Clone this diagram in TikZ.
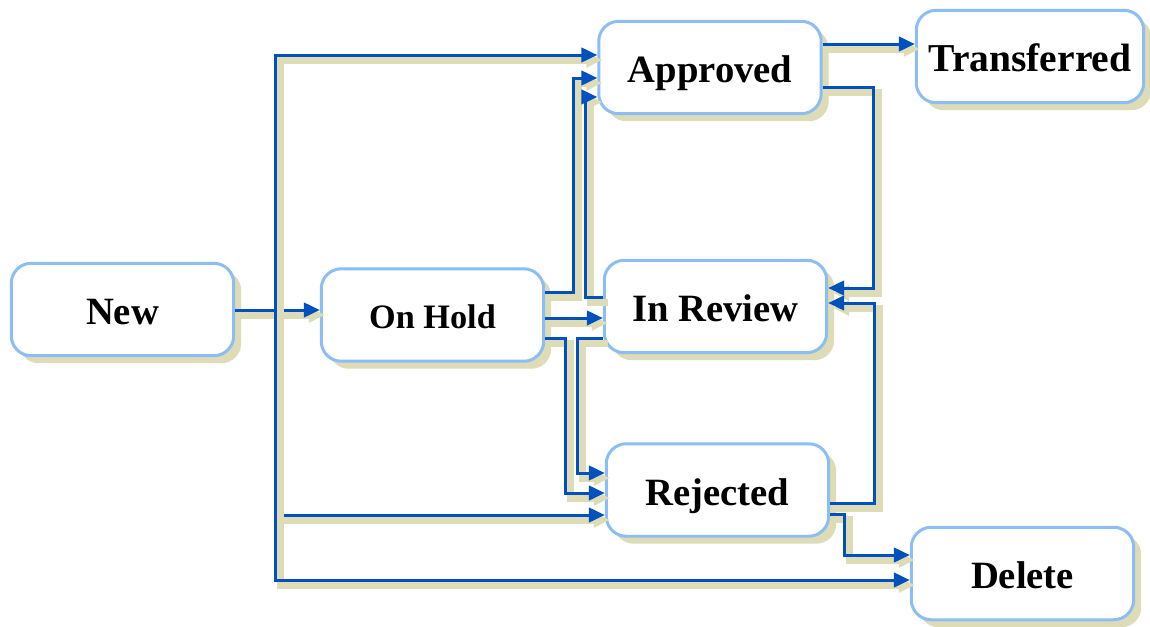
\documentclass[tikz,border=0pt]{standalone}
\usepackage{fontspec}
\setmainfont{Liberation Serif}
\usepackage{xcolor}
\usepackage{tikz}
\usetikzlibrary{positioning}
\usetikzlibrary{arrows.meta,shadows}
\definecolor{flowblue}{RGB}{0,80,190}
\definecolor{boxblue}{RGB}{140,190,245}
\definecolor{shade}{RGB}{221,220,182}
\tikzset{flow/.style = {->,> = {Triangle[length=0.32cm,width=0.29cm]}, draw=flowblue, line width=0.06cm,
    preaction={draw=shade, line width=0.14cm, transform canvas={shift={(0.1cm,-0.1cm)}}}}}

\begin{document}
\begin{tikzpicture}[x=0.02cm, y=-0.02cm,
    state node/.style={rectangle, rounded corners=0.4cm, draw=boxblue, line width=0.06cm, fill=white,
        minimum width=4.45cm, minimum height=1.85cm, text height=0.7cm, text depth=0.1cm,
        font=\bfseries\fontsize{22}{26}\selectfont,
        drop shadow={shadow xshift=0.15cm, shadow yshift=-0.15cm, fill=shade, opacity=1}}]
            \useasboundingbox (0,0) rectangle (1150,626);

            \node[state node] (new) at (122.5,309.5) {New};
            \node[state node, text height=0.62cm, font=\bfseries\fontsize{19.5}{23}\selectfont] (onhold) at (432.5,315) {On Hold};
            \node[state node] (approved) at (710,67.5) {Approved};
            \node[state node, minimum width=4.55cm, font=\bfseries\fontsize{22.5}{27}\selectfont] (transferred) at (1030,56.5) {Transferred};
            \node[state node] (inreview) at (715.5,306.5) {In Review};
            \node[state node] (rejected) at (717.5,490) {Rejected};
            \node[state node] (delete) at (1022.5,573.5) {Delete};

            \coordinate (bus) at (275,310);

            \draw[flow] (new.east |- 0,310) -- (onhold.west |- 0,310);
            \draw[flow] (new.east |- 0,310) -- (bus) |- (approved.west |- 0,55);
            \draw[flow] (new.east |- 0,310) -- (bus) |- (rejected.west |- 0,515);
            \draw[flow] (new.east |- 0,310) -- (bus) |- (delete.west |- 0,580);

            \draw[flow] (approved.east |- 0,44) -- (transferred.west |- 0,44);
            \draw[flow] (approved.east |- 0,87) -| (873,288) -- (inreview.east |- 0,288);

            \draw[flow] (onhold.east |- 0,292) -| (573,78) -- (approved.west |- 0,78);
            \draw[flow] (inreview.west |- 0,297) -| (585,97) -- (approved.west |- 0,97);
            \draw[flow] (onhold.east |- 0,318) -- (inreview.west |- 0,318);
            \draw[flow] (onhold.east |- 0,338) -| (565,493) -- (rejected.west |- 0,493);
            \draw[flow] (inreview.west |- 0,338) -| (577,473) -- (rejected.west |- 0,473);

            \draw[flow] (rejected.east |- 0,503) -| (874,303) -- (inreview.east |- 0,303);
            \draw[flow] (rejected.east |- 0,514) -| (844,555) -- (delete.west |- 0,555);

        \end{tikzpicture}
\end{document}
